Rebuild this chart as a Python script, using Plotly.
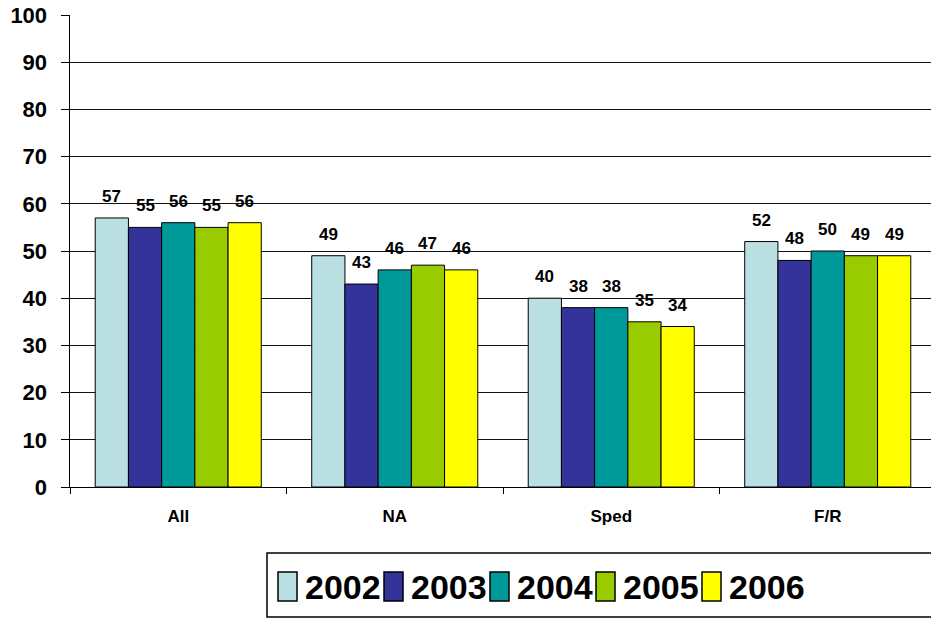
import plotly.graph_objects as go

categories = ["All", "NA", "Sped", "F/R"]
years = ["2002", "2003", "2004", "2005", "2006"]
v2002 = [57, 49, 40, 52]
v2003 = [55, 43, 38, 48]
v2004 = [56, 46, 38, 50]
v2005 = [55, 47, 35, 49]
v2006 = [56, 46, 34, 49]
series = [v2002, v2003, v2004, v2005, v2006]
colors = ["#BBE0E3", "#333399", "#009999", "#99CC00", "#FFFF00"]
y_ticks = list(range(0, 101, 10))

W, H = 931, 618
ML, MT, MB, MR = 70, 15, 131, 0
plot_w = W - ML - MR
plot_h = H - MT - MB
cat_px = 216.5
x_hi = plot_w / cat_px - 0.5
bargap = 0.233
bar_px = cat_px * (1 - bargap) / len(years)

FONT = "Arial, Liberation Sans, sans-serif"

fig = go.Figure()
for name, vals, col in zip(years, series, colors):
    fig.add_trace(go.Bar(
        x=categories, y=vals, name=name,
        marker=dict(color=col, line=dict(color="black", width=1)),
        showlegend=False,
    ))

annotations = []
for i, vals in enumerate(series):
    for c, v in zip(categories, vals):
        annotations.append(dict(
            x=c, y=v, xref="x", yref="y", text=str(v), showarrow=False,
            xshift=(i - (len(years) - 1) / 2) * bar_px, yshift=10,
            yanchor="bottom", xanchor="center",
            font=dict(family=FONT, size=17, color="black", weight="bold"),
        ))

# legend box (custom, clipped at right like the reference)
def px_x(p):
    return (p - ML) / plot_w

def px_y(p):
    return (MT + plot_h - p) / plot_h

shapes = [dict(type="rect", xref="paper", yref="paper",
               x0=px_x(267), x1=px_x(960), y0=px_y(617), y1=px_y(553),
               line=dict(color="black", width=1.5), fillcolor="white", layer="above")]
for i, (name, col) in enumerate(zip(years, colors)):
    sx = 278 + 106 * i
    shapes.append(dict(type="rect", xref="paper", yref="paper",
                       x0=px_x(sx), x1=px_x(sx + 19), y0=px_y(601), y1=px_y(572),
                       line=dict(color="black", width=1.5), fillcolor=col, layer="above"))
    annotations.append(dict(
        x=px_x(sx + 25), y=px_y(587), xref="paper", yref="paper", text=name,
        showarrow=False, xanchor="left", yanchor="middle",
        font=dict(family=FONT, size=34, color="black", weight="bold"),
    ))

fig.update_layout(
    width=W, height=H,
    margin=dict(l=ML, r=MR, t=MT, b=MB, pad=0),
    paper_bgcolor="white", plot_bgcolor="white",
    barmode="group", bargap=bargap, bargroupgap=0,
    showlegend=False,
    annotations=annotations, shapes=shapes,
    xaxis=dict(
        type="category", range=[-0.5, x_hi], tickson="boundaries",
        ticks="outside", ticklen=6, tickwidth=1, tickcolor="black",
        showline=True, linecolor="black", linewidth=1, showgrid=False,
        tickfont=dict(family=FONT, size=17, color="black", weight="bold"),
        ticklabelstandoff=14,
    ),
    yaxis=dict(
        range=[0, 100], tickvals=y_ticks, ticks="outside", ticklen=8,
        tickwidth=1, tickcolor="black",
        showline=True, linecolor="black", linewidth=1.5,
        showgrid=True, gridcolor="#111111", gridwidth=1, zeroline=False,
        tickfont=dict(family=FONT, size=22, color="black", weight="bold"),
        ticklabelstandoff=9,
    ),
)

fig.write_html(
    "out.html",
    config={"displayModeBar": False, "staticPlot": True},
    post_script="document.body.style.margin='0';document.body.style.overflow='hidden';",
)
